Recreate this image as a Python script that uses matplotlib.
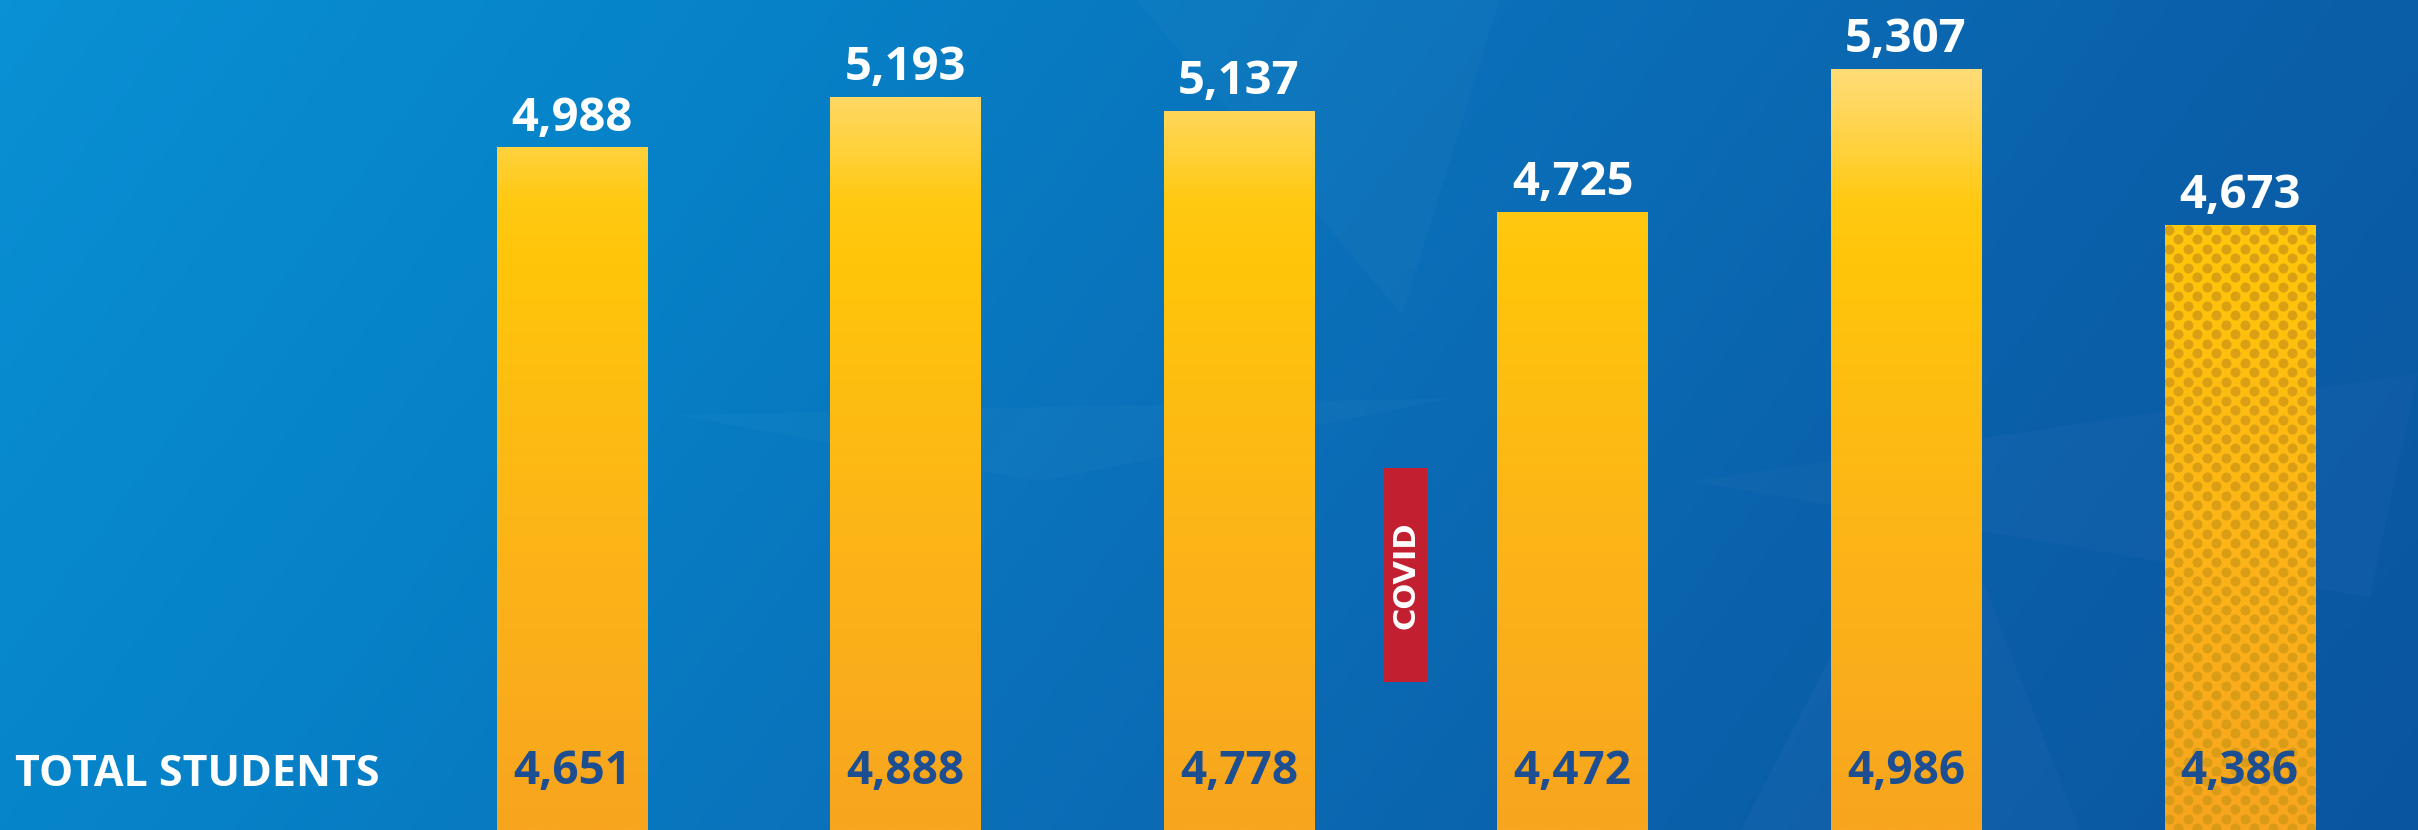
import matplotlib
matplotlib.use("Agg")
import matplotlib.pyplot as plt
import numpy as np
from matplotlib.colors import LinearSegmentedColormap
from matplotlib.patches import Rectangle, Polygon
import matplotlib.transforms as mtransforms

# data
years = ["Y1", "Y2", "Y3", "Y4", "Y5", "Y6"]
top_values = [4988, 5193, 5137, 4725, 5307, 4673]
total_students = [4651, 4888, 4778, 4472, 4986, 4386]
projected = [False, False, False, False, False, True]
row_label = "TOTAL STUDENTS"
covid_after = 2  # covid marker sits between bar 3 and bar 4

W, H = 2418, 830
fig = plt.figure(figsize=(W / 100, H / 100), dpi=100)
ax = fig.add_axes([0, 0, 1, 1])
ax.set_xlim(-1.715, 5.535)
ax.set_ylim(2208, 5588)
ax.axis("off")
ext = [-1.715, 5.535, 2208, 5588]

# background gradient (blue, lighter top-left)
bg_cmap = LinearSegmentedColormap.from_list(
    "bg", ["#0a90d4", "#0682c8", "#0a70b9", "#0b60aa", "#0a559f"])
gx, gy = np.meshgrid(np.linspace(0, 1, 400), np.linspace(0, 1, 140))
grad = 0.8 * gx + 0.2 * gy
ax.imshow(grad, cmap=bg_cmap, extent=ext, aspect="auto", origin="upper", zorder=0)

# faint background shards
shards = [
    [(0.47, 1.0), (0.58, 0.62), (0.62, 1.0)],
    [(0.28, 0.50), (0.60, 0.52), (0.43, 0.42)],
    [(0.70, 0.42), (0.98, 0.28), (1.0, 0.55)],
    [(0.72, 0.0), (0.80, 0.45), (0.86, 0.0)],
]
for s in shards:
    ax.add_patch(Polygon(s, closed=True, transform=ax.transAxes,
                         facecolor="white", alpha=0.022, edgecolor="none", zorder=1))

# bars
x = np.arange(len(years))
bars = ax.bar(x, top_values, width=0.45, color="none", edgecolor="none", zorder=2)

bar_cmap = LinearSegmentedColormap.from_list(
    "bar", [(0.0, "#ffe38a"), (0.07, "#ffdd7c"), (0.12, "#ffd862"),
            (0.18, "#ffd13a"), (0.24, "#ffc912"), (0.32, "#ffc50a"),
            (0.6, "#fdb716"), (1.0, "#f8a51f")])
bar_grad = np.linspace(0, 1, 300).reshape(-1, 1)
ypx = (ext[3] - ext[2]) / H
xpx = (ext[1] - ext[0]) / W

for i, b in enumerate(bars):
    im = ax.imshow(bar_grad, cmap=bar_cmap, extent=ext,
                   aspect="auto", origin="upper", zorder=2)
    im.set_clip_path(b)
    if projected[i]:
        x0 = b.get_x()
        x1 = x0 + b.get_width()
        rows = np.arange(top_values[i] - 5 * ypx, 2208 - 10 * ypx, -9.5 * ypx)
        dx, dy = [], []
        for r, yy in enumerate(rows):
            off = 9.5 * xpx if r % 2 else 0
            cols = np.arange(x0 + 4 * xpx + off, x1 + 5 * xpx, 19 * xpx)
            dx.extend(cols)
            dy.extend([yy] * len(cols))
        sc = ax.scatter(dx, dy, s=52, color="#d49a16", alpha=0.85,
                        linewidths=0, zorder=3)
        sc.set_clip_path(b)

    ax.annotate(f"{top_values[i]:,}", (x[i], top_values[i]),
                xytext=(0, 21), textcoords="offset points",
                ha="center", va="center", color="white",
                fontsize=34, fontweight="bold", family="Open Sans", zorder=4)

trans = mtransforms.blended_transform_factory(ax.transData, ax.transAxes)
for i in range(len(years)):
    ax.text(x[i], 0.071, f"{total_students[i]:,}", transform=trans,
            ha="center", va="center", color="#1d4e91",
            fontsize=33, fontweight="bold", family="Open Sans", zorder=4)

ax.text(0.006, 0.067, row_label, transform=ax.transAxes,
        ha="left", va="center", color="white",
        fontsize=31, fontweight="bold", family="Open Sans", zorder=4)

# covid marker
cx = covid_after + 0.5
ax.add_patch(Rectangle((cx - 0.0645, 0.178), 0.129, 0.258, transform=trans,
                       facecolor="#c21f30", edgecolor="none", zorder=4))
ax.text(cx, 0.307, "COVID", transform=trans, rotation=90,
        ha="center", va="center", color="white",
        fontsize=22, fontweight="bold", family="DejaVu Sans", zorder=5)

fig.savefig("out.png", dpi=100)
